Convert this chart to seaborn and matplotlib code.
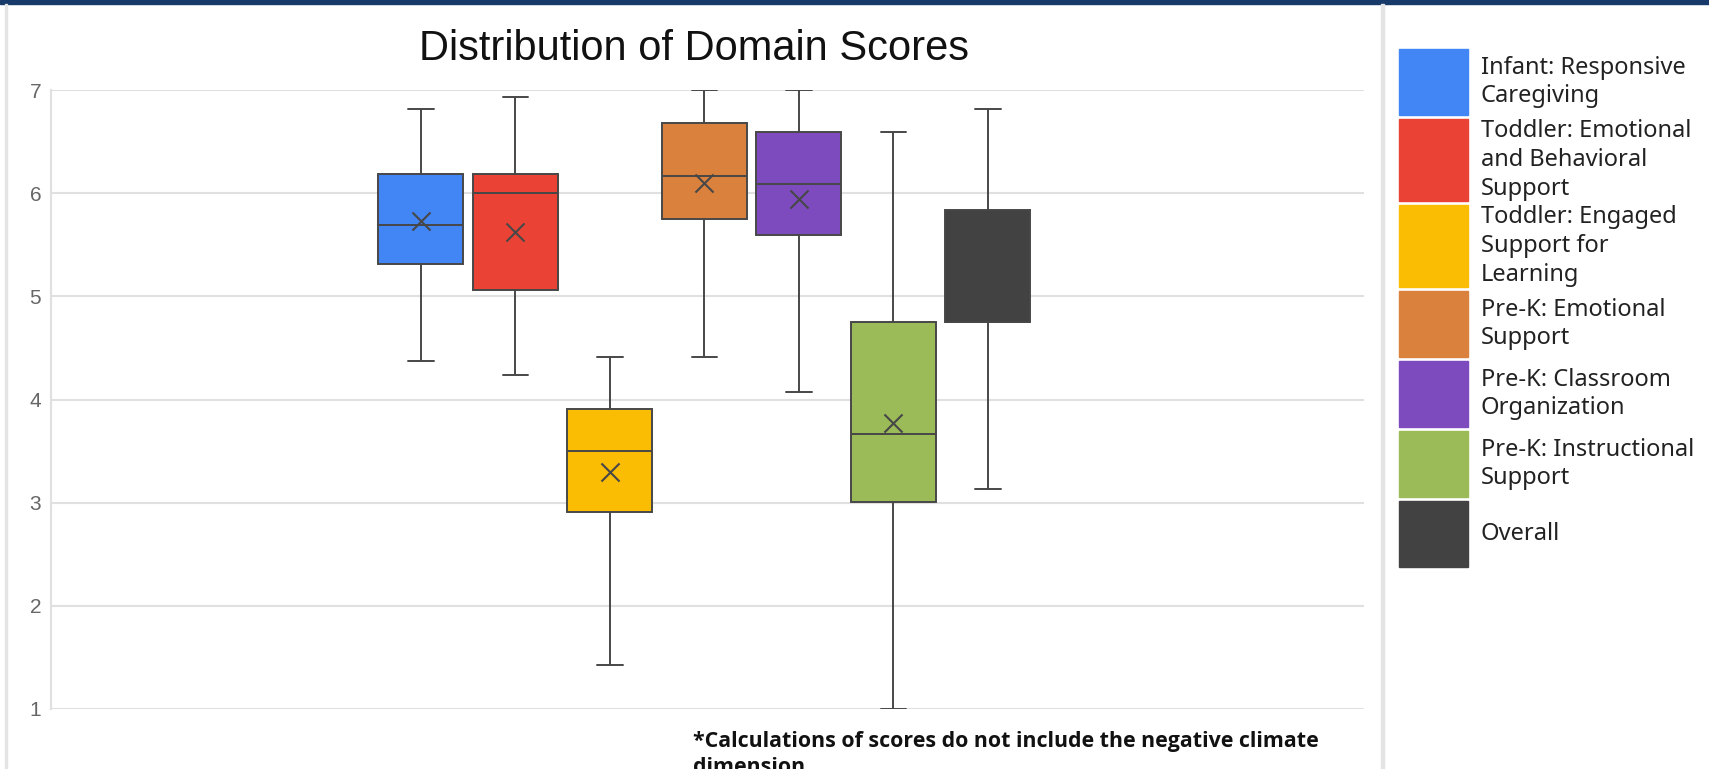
import matplotlib
matplotlib.use("Agg")
import matplotlib.pyplot as plt
from matplotlib.patches import Rectangle
import numpy as np
import pandas as pd
import seaborn as sns

# box stats
domains = ["Infant: Responsive Caregiving",
           "Toddler: Emotional and Behavioral Support",
           "Toddler: Engaged Support for Learning",
           "Pre-K: Emotional Support",
           "Pre-K: Classroom Organization",
           "Pre-K: Instructional Support",
           "Overall"]
legend_labels = ["Infant: Responsive\nCaregiving",
                 "Toddler: Emotional\nand Behavioral\nSupport",
                 "Toddler: Engaged\nSupport for\nLearning",
                 "Pre-K: Emotional\nSupport",
                 "Pre-K: Classroom\nOrganization",
                 "Pre-K: Instructional\nSupport",
                 "Overall"]
mins    = [4.37, 4.24, 1.43, 4.41, 4.07, 1.00, 3.13]
q1s     = [5.31, 5.06, 2.91, 5.75, 5.59, 3.01, 4.75]
medians = [5.69, 6.00, 3.50, 6.17, 6.09, 3.67, 4.75]
q3s     = [6.19, 6.19, 3.91, 6.68, 6.59, 4.75, 5.84]
maxs    = [6.82, 6.93, 4.41, 7.00, 7.00, 6.59, 6.82]
means   = [5.73, 5.62, 3.30, 6.10, 5.94, 3.77, np.nan]  # no mean mark shown for Overall
colors  = ["#4285F4", "#EA4335", "#FBBC04", "#DA813D", "#7E4BBF", "#9BBB59", "#424242"]
yticks  = [1, 2, 3, 4, 5, 6, 7]

title = "Distribution of Domain Scores"
note = "*Calculations of scores do not include the negative climate\ndimension"

# five points per box -> quartiles land exactly on the read values
rows = []
for d, a, b, c, e, f in zip(domains, mins, q1s, medians, q3s, maxs):
    for v in (a, b, c, e, f):
        rows.append({"domain": d, "score": v})
df = pd.DataFrame(rows)
df_mean = pd.DataFrame({"domain": domains, "score": means})

sns.set_theme(style="white")
plt.rcParams["font.family"] = ["Liberation Sans", "DejaVu Sans"]

W, H = 1709, 769
fig = plt.figure(figsize=(W / 100, H / 100), dpi=100)
ax = fig.add_axes([51 / W, 1 - 709 / H, (1364 - 51) / W, (709 - 90) / H])

sns.boxplot(data=df, x="domain", y="score", hue="domain", order=domains,
            hue_order=domains, palette=colors, saturation=1, whis=(0, 100),
            width=0.9, linecolor="#474747", linewidth=1.4, showfliers=False,
            legend=False, ax=ax, capwidths=0.27)
sns.stripplot(data=df_mean, x="domain", y="score", order=domains, jitter=False,
              marker="x", size=13, color="#474747", linewidth=1.5, ax=ax, zorder=5)

ax.set_xlim(-3.915, 9.98)
ax.set_ylim(1, 7)
ax.set_yticks(yticks)
ax.set_yticklabels([str(t) for t in yticks], color="#666666", fontsize=15)
ax.tick_params(axis="y", length=0, pad=7)
ax.set_xticks([])
ax.set_xlabel("")
ax.set_ylabel("")
for t in yticks:
    ax.axhline(t, color="#e0e0e0", lw=1.5, zorder=0)
for s in ["top", "right", "bottom"]:
    ax.spines[s].set_visible(False)
ax.spines["left"].set_color("#e0e0e0")
ax.spines["left"].set_linewidth(1.5)

fig.text(694 / W, 1 - 60 / H, title, ha="center", va="baseline", fontsize=30,
         color="#111111")

fig.text(693 / W, 1 - 731 / H, note, ha="left", va="top", fontsize=15.4,
         fontweight="bold", family=["Open Sans", "DejaVu Sans"], color="#111111",
         linespacing=1.3)

# legend on the right, boxes as tall as their label
y = 49
for lab, col in zip(legend_labels, colors):
    lines = lab.split("\n")
    h = max(66, len(lines) * 29 - 5)
    fig.patches.append(Rectangle((1399 / W, 1 - (y + h) / H), 69 / W, h / H,
                                 transform=fig.transFigure, color=col))
    mid = y + h / 2
    for i, ln in enumerate(lines):
        ly = mid + (i - (len(lines) - 1) / 2) * 29
        fig.text(1481 / W, 1 - ly / H, ln, ha="left", va="center", fontsize=17,
                 family=["Noto Sans", "DejaVu Sans"], color="#222222")
    y += h + 4

# page frame bits
fig.patches.append(Rectangle((0, 1 - 4 / H), 1, 4 / H, transform=fig.transFigure,
                             color="#173a6a"))
fig.patches.append(Rectangle((5 / W, 0), 2 / W, 1 - 4 / H, transform=fig.transFigure,
                             color="#e4e4e4"))
fig.patches.append(Rectangle((1381 / W, 0), 3 / W, 1 - 4 / H, transform=fig.transFigure,
                             color="#e4e4e4"))

fig.savefig("out.png", dpi=100)
